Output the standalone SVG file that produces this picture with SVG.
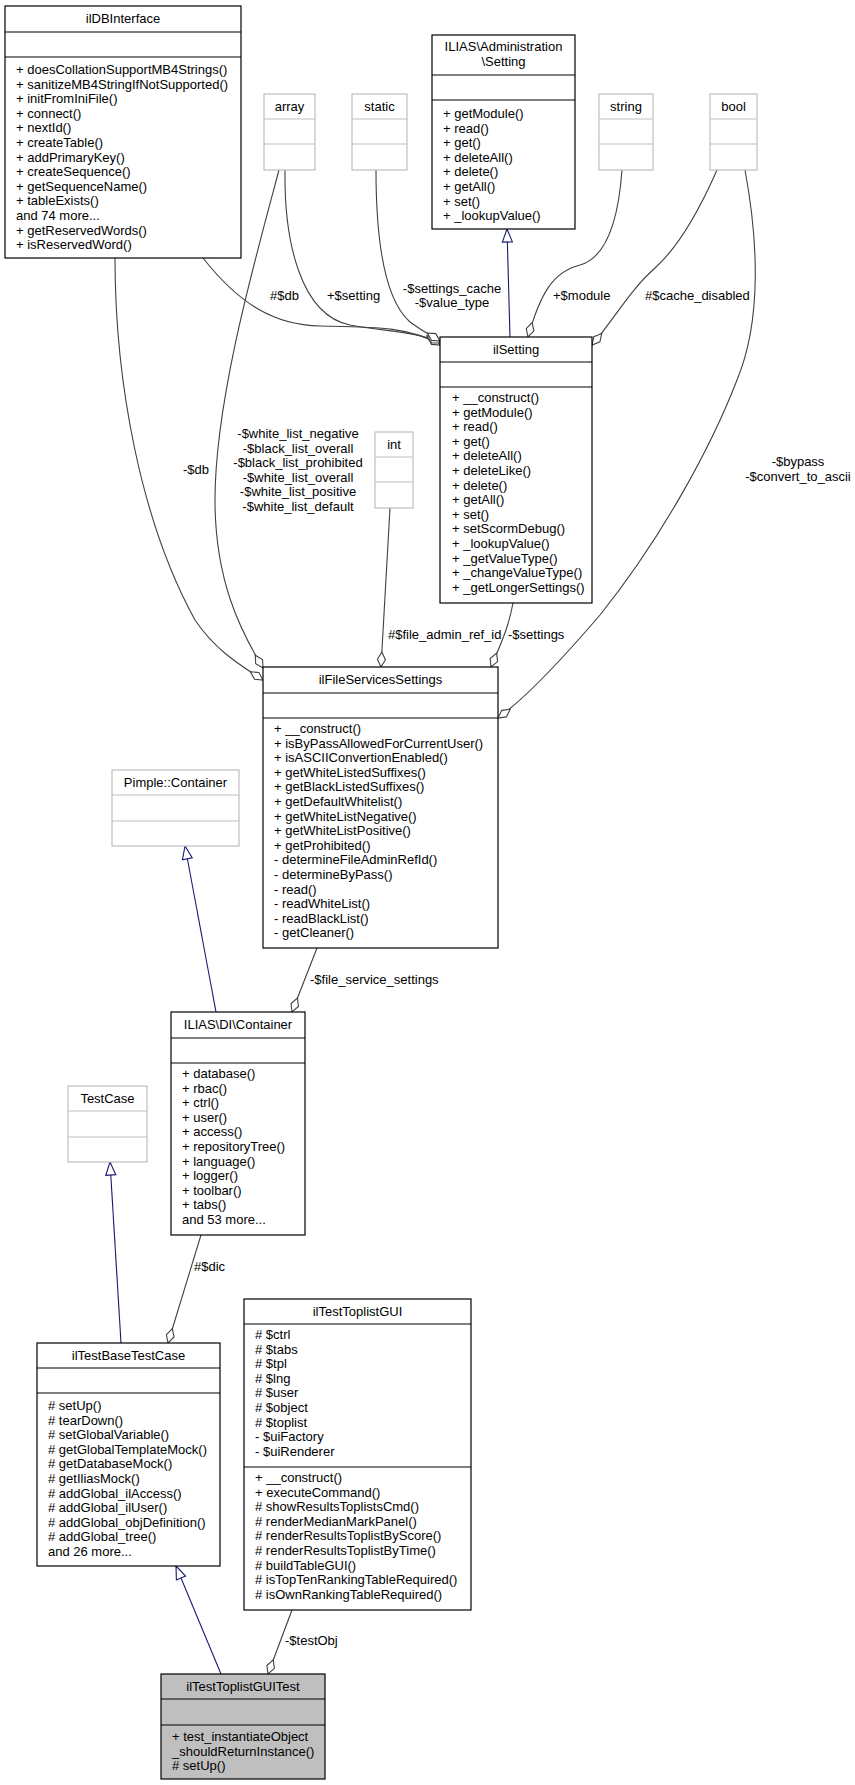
<svg xmlns="http://www.w3.org/2000/svg" width="855" height="1785" viewBox="0 0 855 1785">
<defs>
<style>
text{font-family:"Liberation Sans",Arial,sans-serif;font-size:13px;fill:#000}
.t{text-anchor:middle}
.m{text-anchor:middle}
.box{fill:#fff;stroke:#000;stroke-width:1.2}
.gbox{fill:#fff;stroke:#bfbfbf;stroke-width:1.2}
.gl{stroke:#bfbfbf;stroke-width:1.2}
.bl{stroke:#000;stroke-width:1.2}
.e{fill:none;stroke:#404040;stroke-width:1.1}
.inh{fill:none;stroke:#191970;stroke-width:1.1}
</style>
<marker id="dia" markerUnits="userSpaceOnUse" markerWidth="17" markerHeight="11" viewBox="0 0 17 11" refX="16" refY="5.5" orient="auto">
<path d="M1,5.5 L8.5,1.5 L16,5.5 L8.5,9.5 Z" fill="#fff" stroke="#404040" stroke-width="1.1"/>
</marker>
<marker id="tri" markerUnits="userSpaceOnUse" markerWidth="15" markerHeight="12" viewBox="0 0 15 12" refX="14" refY="6" orient="auto">
<path d="M1,1 L14,6 L1,11 Z" fill="#fff" stroke="#191970" stroke-width="1.1"/>
</marker>
</defs>
<rect width="855" height="1785" fill="#fff"/>

<g id="connectors">
<path class="e" marker-end="url(#dia)" d="M203,258 C240,305 275,325 320,326 C370,327 410,326 440,345"/>
<path class="e" marker-end="url(#dia)" d="M285,170 C284,240 300,315 350,325 C390,332 420,332 440,343"/>
<path class="e" marker-end="url(#dia)" d="M376,170 C376,240 385,300 410,322 C425,333 432,336 440,341"/>
<path class="inh" marker-end="url(#tri)" d="M510,337 L507,229"/>
<path class="e" marker-end="url(#dia)" d="M622,170 C618,225 605,258 580,265 C552,272 540,295 528,337"/>
<path class="e" marker-end="url(#dia)" d="M717,170 C695,220 675,250 655,268 C630,290 615,318 592,345"/>
<path class="e" marker-end="url(#dia)" d="M745,170 C758,240 762,320 737,380 C710,450 660,540 600,615 C570,650 530,695 498,718"/>
<path class="e" marker-end="url(#dia)" d="M115,258 C115,380 140,520 195,620 C215,650 240,665 263,680"/>
<path class="e" marker-end="url(#dia)" d="M279,170 C255,260 215,400 215,500 C215,580 240,630 263,668"/>
<path class="e" marker-end="url(#dia)" d="M390,508 L381,667"/>
<path class="e" marker-end="url(#dia)" d="M513,603 C508,630 500,645 491,667"/>
<path class="e" marker-end="url(#dia)" d="M317,948 L292,1012"/>
<path class="inh" marker-end="url(#tri)" d="M216,1012 L185,846"/>
<path class="e" marker-end="url(#dia)" d="M201,1235 L168,1343"/>
<path class="inh" marker-end="url(#tri)" d="M121,1343 L110,1162"/>
<path class="e" marker-end="url(#dia)" d="M292,1610 L268,1674"/>
<path class="inh" marker-end="url(#tri)" d="M221,1674 L176,1566"/>

<text x="270" y="300">#$db</text>
<text x="327" y="300">+$setting</text>
<text class="m" x="452" y="293">-$settings_cache</text>
<text class="m" x="452" y="307">-$value_type</text>
<text x="553" y="300">+$module</text>
<text x="645" y="300">#$cache_disabled</text>
<text class="m" x="798" y="466">-$bypass</text>
<text class="m" x="798" y="481">-$convert_to_ascii</text>
<text x="183" y="474">-$db</text>
<text class="m" x="298" y="438">-$white_list_negative</text>
<text class="m" x="298" y="452.5">-$black_list_overall</text>
<text class="m" x="298" y="467">-$black_list_prohibited</text>
<text class="m" x="298" y="481.5">-$white_list_overall</text>
<text class="m" x="298" y="496">-$white_list_positive</text>
<text class="m" x="298" y="510.5">-$white_list_default</text>
<text x="388" y="639">#$file_admin_ref_id</text>
<text x="508" y="639">-$settings</text>
<text x="310" y="984">-$file_service_settings</text>
<text x="194" y="1271">#$dic</text>
<text x="285" y="1645">-$testObj</text>
</g>

<g id="ilDBInterface">
<rect class="box" x="5" y="6" width="236" height="252"/>
<line class="bl" x1="5" y1="32" x2="241" y2="32"/>
<line class="bl" x1="5" y1="57" x2="241" y2="57"/>
<text class="t" x="123" y="23">ilDBInterface</text>
<text x="16" y="74">+ doesCollationSupportMB4Strings()</text>
<text x="16" y="88.6">+ sanitizeMB4StringIfNotSupported()</text>
<text x="16" y="103.2">+ initFromIniFile()</text>
<text x="16" y="117.8">+ connect()</text>
<text x="16" y="132.4">+ nextId()</text>
<text x="16" y="147">+ createTable()</text>
<text x="16" y="161.6">+ addPrimaryKey()</text>
<text x="16" y="176.2">+ createSequence()</text>
<text x="16" y="190.8">+ getSequenceName()</text>
<text x="16" y="205.4">+ tableExists()</text>
<text x="16" y="220">and 74 more...</text>
<text x="16" y="234.6">+ getReservedWords()</text>
<text x="16" y="249.2">+ isReservedWord()</text>
</g>

<g id="array">
<rect class="gbox" x="264" y="94" width="51" height="76"/>
<line class="gl" x1="264" y1="119" x2="315" y2="119"/>
<line class="gl" x1="264" y1="144" x2="315" y2="144"/>
<text class="t" x="289.5" y="111">array</text>
</g>

<g id="static">
<rect class="gbox" x="352" y="94" width="55" height="76"/>
<line class="gl" x1="352" y1="119" x2="407" y2="119"/>
<line class="gl" x1="352" y1="144" x2="407" y2="144"/>
<text class="t" x="379.5" y="111">static</text>
</g>

<g id="AdministrationSetting">
<rect class="box" x="432" y="35" width="143" height="194"/>
<line class="bl" x1="432" y1="75" x2="575" y2="75"/>
<line class="bl" x1="432" y1="100" x2="575" y2="100"/>
<text class="t" x="503.5" y="51">ILIAS\Administration</text>
<text class="t" x="503.5" y="66">\Setting</text>
<text x="443" y="118">+ getModule()</text>
<text x="443" y="132.6">+ read()</text>
<text x="443" y="147.2">+ get()</text>
<text x="443" y="161.8">+ deleteAll()</text>
<text x="443" y="176.4">+ delete()</text>
<text x="443" y="191">+ getAll()</text>
<text x="443" y="205.6">+ set()</text>
<text x="443" y="220.2">+ _lookupValue()</text>
</g>

<g id="string">
<rect class="gbox" x="599" y="94" width="54" height="76"/>
<line class="gl" x1="599" y1="119" x2="653" y2="119"/>
<line class="gl" x1="599" y1="144" x2="653" y2="144"/>
<text class="t" x="626" y="111">string</text>
</g>

<g id="bool">
<rect class="gbox" x="710" y="94" width="47" height="76"/>
<line class="gl" x1="710" y1="119" x2="757" y2="119"/>
<line class="gl" x1="710" y1="144" x2="757" y2="144"/>
<text class="t" x="733.5" y="111">bool</text>
</g>

<g id="ilSetting">
<rect class="box" x="440" y="337" width="152" height="266"/>
<line class="bl" x1="440" y1="362" x2="592" y2="362"/>
<line class="bl" x1="440" y1="387" x2="592" y2="387"/>
<text class="t" x="516" y="354">ilSetting</text>
<text x="452" y="402">+ __construct()</text>
<text x="452" y="416.6">+ getModule()</text>
<text x="452" y="431.2">+ read()</text>
<text x="452" y="445.8">+ get()</text>
<text x="452" y="460.4">+ deleteAll()</text>
<text x="452" y="475">+ deleteLike()</text>
<text x="452" y="489.6">+ delete()</text>
<text x="452" y="504.2">+ getAll()</text>
<text x="452" y="518.8">+ set()</text>
<text x="452" y="533.4">+ setScormDebug()</text>
<text x="452" y="548">+ _lookupValue()</text>
<text x="452" y="562.6">+ _getValueType()</text>
<text x="452" y="577.2">+ _changeValueType()</text>
<text x="452" y="591.8">+ _getLongerSettings()</text>
</g>

<g id="int">
<rect class="gbox" x="375" y="432" width="38" height="76"/>
<line class="gl" x1="375" y1="457" x2="413" y2="457"/>
<line class="gl" x1="375" y1="482" x2="413" y2="482"/>
<text class="t" x="394" y="449">int</text>
</g>

<g id="ilFileServicesSettings">
<rect class="box" x="263" y="667" width="235" height="281"/>
<line class="bl" x1="263" y1="693" x2="498" y2="693"/>
<line class="bl" x1="263" y1="718" x2="498" y2="718"/>
<text class="t" x="380.5" y="684">ilFileServicesSettings</text>
<text x="274" y="733">+ __construct()</text>
<text x="274" y="747.6">+ isByPassAllowedForCurrentUser()</text>
<text x="274" y="762.2">+ isASCIIConvertionEnabled()</text>
<text x="274" y="776.8">+ getWhiteListedSuffixes()</text>
<text x="274" y="791.4">+ getBlackListedSuffixes()</text>
<text x="274" y="806">+ getDefaultWhitelist()</text>
<text x="274" y="820.6">+ getWhiteListNegative()</text>
<text x="274" y="835.2">+ getWhiteListPositive()</text>
<text x="274" y="849.8">+ getProhibited()</text>
<text x="274" y="864.4">- determineFileAdminRefId()</text>
<text x="274" y="879">- determineByPass()</text>
<text x="274" y="893.6">- read()</text>
<text x="274" y="908.2">- readWhiteList()</text>
<text x="274" y="922.8">- readBlackList()</text>
<text x="274" y="937.4">- getCleaner()</text>
</g>

<g id="PimpleContainer">
<rect class="gbox" x="112" y="770" width="127" height="76"/>
<line class="gl" x1="112" y1="795" x2="239" y2="795"/>
<line class="gl" x1="112" y1="821" x2="239" y2="821"/>
<text class="t" x="175.5" y="787">Pimple::Container</text>
</g>

<g id="DIContainer">
<rect class="box" x="171" y="1012" width="134" height="223"/>
<line class="bl" x1="171" y1="1038" x2="305" y2="1038"/>
<line class="bl" x1="171" y1="1063" x2="305" y2="1063"/>
<text class="t" x="238" y="1029">ILIAS\DI\Container</text>
<text x="182" y="1078">+ database()</text>
<text x="182" y="1092.6">+ rbac()</text>
<text x="182" y="1107.2">+ ctrl()</text>
<text x="182" y="1121.8">+ user()</text>
<text x="182" y="1136.4">+ access()</text>
<text x="182" y="1151">+ repositoryTree()</text>
<text x="182" y="1165.6">+ language()</text>
<text x="182" y="1180.2">+ logger()</text>
<text x="182" y="1194.8">+ toolbar()</text>
<text x="182" y="1209.4">+ tabs()</text>
<text x="182" y="1224">and 53 more...</text>
</g>

<g id="TestCase">
<rect class="gbox" x="68" y="1086" width="79" height="76"/>
<line class="gl" x1="68" y1="1111" x2="147" y2="1111"/>
<line class="gl" x1="68" y1="1137" x2="147" y2="1137"/>
<text class="t" x="107.5" y="1103">TestCase</text>
</g>

<g id="ilTestBaseTestCase">
<rect class="box" x="37" y="1343" width="183" height="223"/>
<line class="bl" x1="37" y1="1368" x2="220" y2="1368"/>
<line class="bl" x1="37" y1="1393" x2="220" y2="1393"/>
<text class="t" x="128.5" y="1360">ilTestBaseTestCase</text>
<text x="48" y="1410">#  setUp()</text>
<text x="48" y="1424.6">#  tearDown()</text>
<text x="48" y="1439.2">#  setGlobalVariable()</text>
<text x="48" y="1453.8">#  getGlobalTemplateMock()</text>
<text x="48" y="1468.4">#  getDatabaseMock()</text>
<text x="48" y="1483">#  getIliasMock()</text>
<text x="48" y="1497.6">#  addGlobal_ilAccess()</text>
<text x="48" y="1512.2">#  addGlobal_ilUser()</text>
<text x="48" y="1526.8">#  addGlobal_objDefinition()</text>
<text x="48" y="1541.4">#  addGlobal_tree()</text>
<text x="48" y="1556">and 26 more...</text>
</g>

<g id="ilTestToplistGUI">
<rect class="box" x="244" y="1299" width="227" height="311"/>
<line class="bl" x1="244" y1="1324" x2="471" y2="1324"/>
<line class="bl" x1="244" y1="1467" x2="471" y2="1467"/>
<text class="t" x="357.5" y="1316">ilTestToplistGUI</text>
<text x="255" y="1339">#  $ctrl</text>
<text x="255" y="1353.6">#  $tabs</text>
<text x="255" y="1368.2">#  $tpl</text>
<text x="255" y="1382.8">#  $lng</text>
<text x="255" y="1397.4">#  $user</text>
<text x="255" y="1412">#  $object</text>
<text x="255" y="1426.6">#  $toplist</text>
<text x="255" y="1441.2">-  $uiFactory</text>
<text x="255" y="1455.8">-  $uiRenderer</text>
<text x="255" y="1482">+  __construct()</text>
<text x="255" y="1496.6">+  executeCommand()</text>
<text x="255" y="1511.2">#  showResultsToplistsCmd()</text>
<text x="255" y="1525.8">#  renderMedianMarkPanel()</text>
<text x="255" y="1540.4">#  renderResultsToplistByScore()</text>
<text x="255" y="1555">#  renderResultsToplistByTime()</text>
<text x="255" y="1569.6">#  buildTableGUI()</text>
<text x="255" y="1584.2">#  isTopTenRankingTableRequired()</text>
<text x="255" y="1598.8">#  isOwnRankingTableRequired()</text>
</g>

<g id="ilTestToplistGUITest">
<rect x="161" y="1674" width="164" height="105" fill="#bfbfbf" stroke="#000" stroke-width="1.2"/>
<line class="bl" x1="161" y1="1699" x2="325" y2="1699"/>
<line class="bl" x1="161" y1="1725" x2="325" y2="1725"/>
<text class="t" x="243" y="1691">ilTestToplistGUITest</text>
<text x="172" y="1741">+ test_instantiateObject</text>
<text x="172" y="1755.6">_shouldReturnInstance()</text>
<text x="172" y="1770.2">#  setUp()</text>
</g>
</svg>
